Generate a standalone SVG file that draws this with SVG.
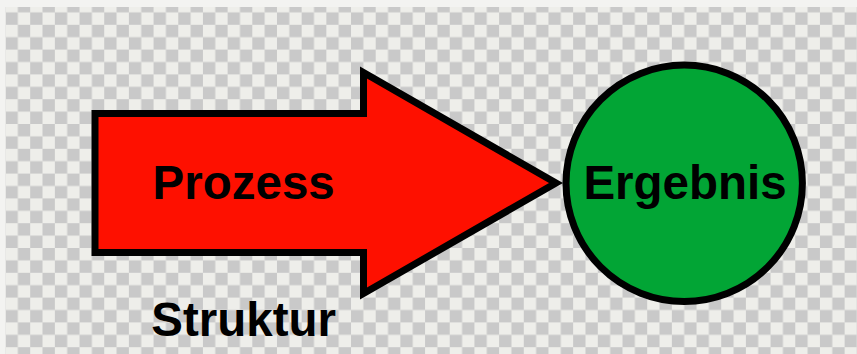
<svg xmlns="http://www.w3.org/2000/svg" width="857" height="354" viewBox="0 0 857 354">
  <defs>
    <pattern id="checker" patternUnits="userSpaceOnUse" x="5.5" y="0" width="24.68" height="24.8">
      <rect width="24.68" height="24.8" fill="#eeeeea"/>
      <rect x="12.34" y="0" width="12.34" height="12.4" fill="#c9c9c9"/>
      <rect x="0" y="12.4" width="12.34" height="12.4" fill="#c9c9c9"/>
    </pattern>
    <style>
      .shape { stroke: #000; stroke-width: 7; stroke-linejoin: miter; stroke-miterlimit: 10; }
      .label { font-family: "Liberation Sans", Arial, sans-serif; font-weight: bold; font-size: 47.5px; fill: #000; text-anchor: middle; }
    </style>
  </defs>

  <g id="background">
    <rect width="857" height="354" fill="url(#checker)"/>
    <rect x="0" y="0" width="5.5" height="354" fill="#f3f3f1"/>
    <rect x="0" y="0" width="857" height="7" fill="#f3f3f1"/>
  </g>

  <g id="connectors"/>

  <g id="prozess">
    <path class="shape" fill="#fe1000" d="M95,113.5 H363.5 V72.5 L556,183 L363.5,293.5 V252.5 H95 Z"/>
    <text class="label" x="243.7" y="198.5">Prozess</text>
  </g>

  <g id="ergebnis">
    <circle class="shape" fill="#02a535" cx="684.2" cy="183.3" r="118.2"/>
    <text class="label" x="685" y="198.5">Ergebnis</text>
  </g>

  <g id="struktur">
    <text class="label" x="243.7" y="335.5">Struktur</text>
  </g>
</svg>
